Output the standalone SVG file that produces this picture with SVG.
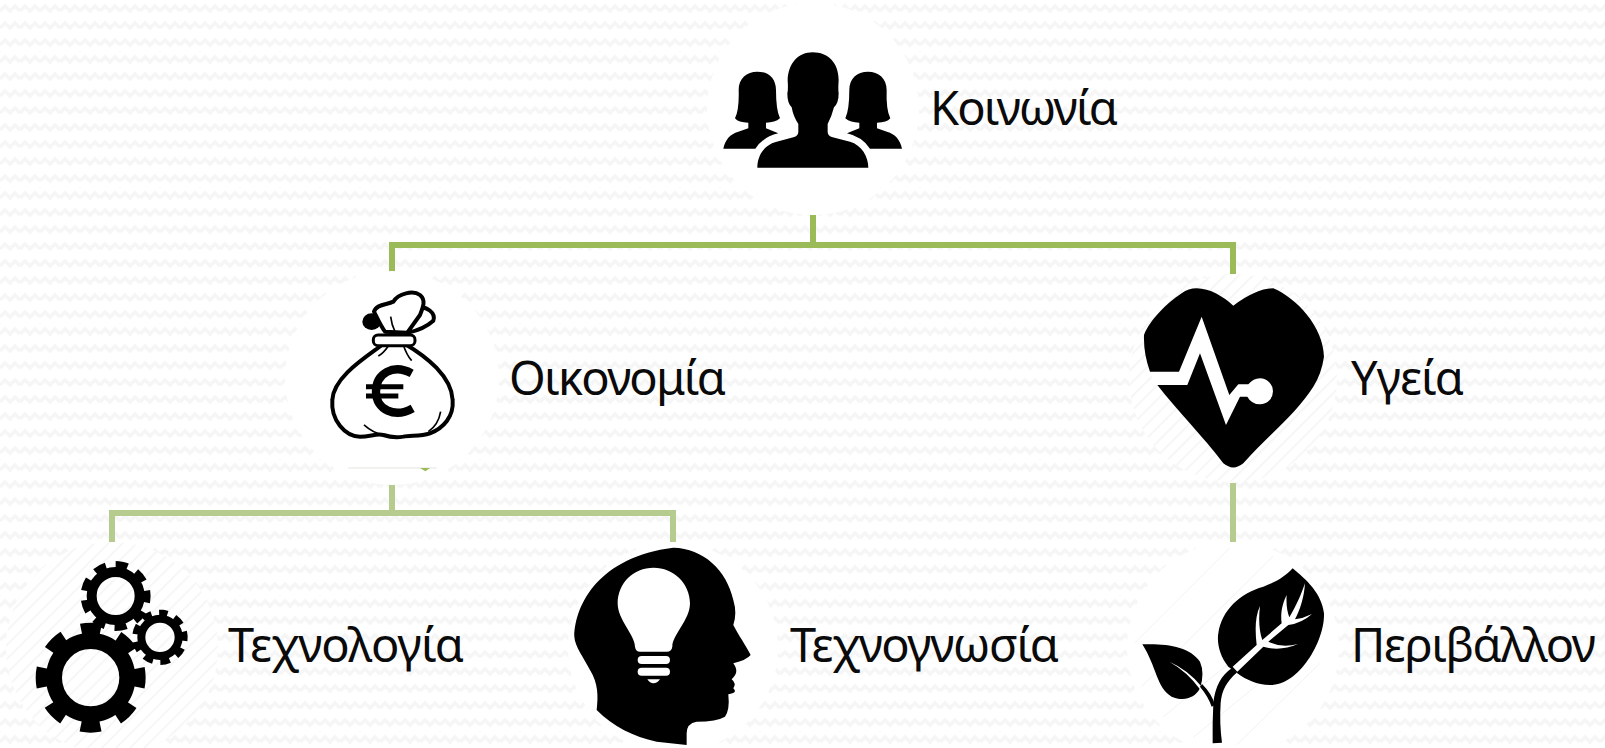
<svg xmlns="http://www.w3.org/2000/svg" width="1605" height="748" viewBox="0 0 1605 748">
<style>
.lbl{font-family:"Noto Sans","Open Sans","DejaVu Sans",sans-serif;font-size:47px;fill:#0a0a0a}
.disc{fill:#fff}
.c1{stroke:#9bbb59;stroke-width:6;fill:none}
.c2{stroke:#b5cc8e;stroke-width:6;fill:none}
.k{fill:#000}
.w{fill:#fff}
</style>
<defs>
<pattern id="bg" width="20" height="17" patternUnits="userSpaceOnUse"><path d="M0,11 L5,6 L10,11 L15,6 L20,11" fill="none" stroke="#f6f6f6" stroke-width="3.5"/></pattern>
<pattern id="hatch" width="10" height="10" patternUnits="userSpaceOnUse" patternTransform="rotate(45)"><rect width="10" height="10" fill="#fff"/><rect width="1.5" height="10" fill="#f4f4f4"/></pattern>
</defs>
<rect width="1605" height="748" fill="#fff"/>
<rect width="1605" height="748" fill="url(#bg)"/>
<g id="connectors">
<path class="c1" d="M813,215V245M392,274V245H1233V274"/>
<path class="c2" d="M392,483V513M112,542V513H673V542M1233,483V542"/>
</g>
<g id="koinonia">
<circle class="disc" cx="813" cy="109" r="106"/>
<g transform="translate(680,0) scale(.3333)">
<path id="woman" class="k" d="M130,446C135,420 150,402 175,395L205,385V368Q175,368 165,355Q178,330 176,270C176,235 200,215 232,215C265,215 288,235 288,270Q288,330 300,355Q285,368 258,368V385L295,400Q250,410 226,446Z"/>
<path class="k" d="M666,446C661,420 646,402 621,395L591,385V368Q621,368 631,355Q618,330 620,270C620,235 596,215 564,215C531,215 508,235 508,270Q508,330 496,355Q511,368 538,368V385L501,400Q546,410 570,446Z"/>
<path class="k" d="M232,503C232,470 250,435 290,425L340,412Q355,408 355,395V372Q340,350 335,322Q322,310 322,280Q325,270 323,240C325,190 355,157 398,157C445,157 476,190 476,240Q474,270 476,280Q476,310 462,322Q455,350 443,372V395Q443,408 458,412L510,425C545,435 565,470 565,503Z"/>
</g>
<text class="lbl" x="930" y="125" textLength="188">Κοινωνία</text>
</g>
<g id="oikonomia">
<circle class="disc" cx="392" cy="378" r="107"/>
<g transform="translate(270,260) scale(.3333)">
<ellipse class="k" cx="305" cy="185" rx="28" ry="25"/>
<path fill="#fff" stroke="#000" stroke-width="12" d="M440,145C470,135 498,160 490,182C470,200 440,212 415,218Z"/>
<path fill="#fff" stroke="#000" stroke-width="12" stroke-linejoin="round" d="M345,215C330,195 320,170 312,155C320,132 350,135 370,125C385,100 430,90 450,105C468,120 460,140 450,165L412,218Z"/>
<path fill="#fff" stroke="#000" stroke-width="12" d="M340,252C290,290 190,350 187,420C182,480 225,530 270,530C300,530 320,520 340,525Q370,535 400,530C420,525 450,530 480,520C520,505 552,470 548,420C545,350 470,290 405,252Z"/>
<rect x="310" y="225" width="125" height="32" rx="14" fill="#fff" stroke="#000" stroke-width="9"/>
<path fill="none" stroke="#000" stroke-width="5" d="M355,258Q340,280 325,288M400,255Q410,285 425,302M282,495Q310,520 340,525M512,455Q505,495 475,515M362,170Q365,195 375,215"/>
<path fill="none" stroke="#000" stroke-width="25" d="M425,340C370,310 318,340 318,395C318,450 375,475 428,445"/>
<path fill="none" stroke="#000" stroke-width="15" d="M288,380H400M288,408H385"/>
<path fill="none" stroke="#d4d4cc" stroke-width="2" d="M235,624H500"/>
<path fill="#9bbb59" d="M450,624H480L466,634Z"/>
</g>
<text class="lbl" x="509" y="395" textLength="217">Οικονομία</text>
</g>
<g id="ygeia">
<circle fill="url(#hatch)" cx="1233" cy="378" r="104"/>
<g transform="translate(1100,260) scale(.3333)">
<path class="k" d="M400,137C370,110 330,85 290,85Q265,85 245,100C200,130 150,180 132,225Q130,280 150,335L172,375C230,450 310,530 370,610Q400,635 430,610C500,530 590,460 640,380Q665,340 672,290C670,200 590,115 520,85Q470,85 400,137Z"/>
<path class="w" d="M148,335H237L305,170L388,405L415,373H445Q460,355 480,355A39,39 0 1 1 480,433Q455,433 442,410H420L378,495L300,280L262,375H168Z"/>
</g>
<text class="lbl" x="1351" y="395" textLength="113">Υγεία</text>
</g>
<g id="technologia">
<circle fill="url(#hatch)" cx="112" cy="648" r="106"/>
<g transform="translate(0,530) scale(.3333)" fill="none" stroke="#000">
<circle cx="272" cy="443" r="110" stroke-width="48"/>
<circle cx="272" cy="443" r="148" stroke-width="34" pathLength="360" stroke-dasharray="23 22" stroke-dashoffset="11.5"/>
<circle cx="347" cy="198" r="72" stroke-width="30"/>
<circle cx="347" cy="198" r="94" stroke-width="22" pathLength="360" stroke-dasharray="22 18" stroke-dashoffset="11" transform="rotate(-79 347 198)"/>
<circle cx="480" cy="322" r="56" stroke-width="24"/>
<circle cx="480" cy="322" r="74" stroke-width="18" pathLength="360" stroke-dasharray="22 18" stroke-dashoffset="11" transform="rotate(-83 480 322)"/>
</g>
<text class="lbl" x="228" y="662" textLength="236">Τεχνολογία</text>
</g>
<g id="technognosia">
<circle class="disc" cx="673" cy="648" r="105"/>
<g transform="translate(540,520) scale(.3333)">
<path class="k" d="M440,675L350,665C280,650 220,620 170,570C175,530 175,490 150,450C130,410 105,380 103,350C105,250 180,110 400,83C490,85 560,150 580,240Q592,280 580,315C595,345 620,380 632,405Q620,420 580,430C595,450 590,465 575,478Q590,490 580,505C590,515 585,520 565,523Q570,570 555,590Q530,605 470,605Q440,610 440,640Z"/>
<path class="w" d="M341,143C280,143 233,190 233,250C233,300 285,345 285,380Q287,395 300,395H380Q395,395 397,380C397,345 450,300 450,250C450,190 400,143 341,143Z"/>
<rect class="w" x="293" y="408" width="97" height="24" rx="12"/>
<rect class="w" x="293" y="443" width="97" height="24" rx="12"/>
<path class="w" d="M322,478H360Q352,490 340,490Q330,490 322,478Z"/>
</g>
<text class="lbl" x="790" y="662" textLength="269">Τεχνογνωσία</text>
</g>
<g id="perivallon">
<circle class="disc" cx="1233" cy="648" r="106"/>
<g transform="translate(1100,530) scale(.3333)">
<path fill="none" stroke="#ececec" stroke-width="2" d="M105,338L388,55M125,470L520,78M190,560L400,390M280,622L600,360M410,645L660,400"/>
<path class="k" d="M578,115C620,150 665,190 672,250C675,330 600,465 510,465C470,465 440,450 412,430L385,410C360,380 350,340 355,310C365,240 420,190 490,170C530,155 555,140 578,115Z"/>
<path fill="#fff" d="M398,410L470,345C465,300 465,260 480,228C475,270 478,305 487,330L545,280C540,245 550,215 560,195C558,225 562,245 568,262C590,225 605,190 615,160C612,205 600,240 585,268Q610,265 636,252Q605,280 565,285L505,335Q545,355 594,342Q540,365 490,350L412,425Z"/>
<path class="k" d="M127,343C200,340 270,350 300,395Q315,430 300,475C285,505 250,515 215,500C170,475 170,410 127,343Z"/>
<path fill="#fff" d="M208,395Q265,420 305,470L300,478Q262,425 208,395Z"/>
<path class="k" d="M338,640Q337,580 340,520C345,470 365,435 395,415L410,428C380,455 365,480 362,520Q358,580 366,638Z"/>
<path class="k" d="M335,530Q325,500 300,470L306,462Q335,490 345,525Z"/>
</g>
<text class="lbl" x="1351" y="662" textLength="245">Περιβάλλον</text>
</g>
</svg>
